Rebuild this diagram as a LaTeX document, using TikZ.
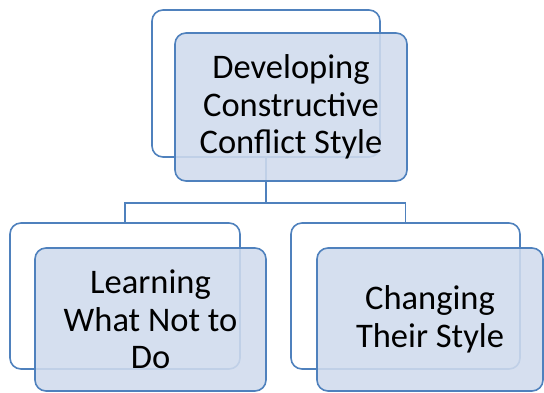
\documentclass[tikz,border=0pt]{standalone}
\usepackage{fontspec}
\setmainfont{Carlito}
\definecolor{edgeblue}{RGB}{79,129,189}
\definecolor{frontfill}{RGB}{208,219,237}
\begin{document}
\begin{tikzpicture}[x=1bp,y=-1bp,
  backbox/.style={draw=edgeblue,line width=1.6bp,rounded corners=11bp,fill=white,
    inner sep=0pt,outer sep=0pt,anchor=center},
  frontbox/.style={draw=edgeblue,line width=1.6bp,rounded corners=11bp,fill=frontfill,
    fill opacity=0.88,text opacity=1,inner sep=0pt,outer sep=0pt,anchor=center,
    align=center,font=\fontsize{34.5bp}{37.5bp}\selectfont},
  link/.style={draw=edgeblue,line width=1.6bp}]
\useasboundingbox (0,0) rectangle (544,392);
% back boxes
\node[backbox,minimum width=228bp,minimum height=147bp] (topback) at (266,83.5) {};
\node[backbox,minimum width=230bp,minimum height=146bp] (leftback) at (125,296) {};
\node[backbox,minimum width=229bp,minimum height=146bp] (rightback) at (405.5,296) {};
% connectors
\coordinate (j) at (266,203);
\draw[link] (topback.south) -- (j);
\draw[link] (leftback.north) |- (j) -| (rightback.north);
% front boxes
\node[frontbox,minimum width=232bp,minimum height=148bp] (topfront) at (291,107)
  {Developing\\Constructive\\Conflict Style};
\node[frontbox,minimum width=231bp,minimum height=143bp] (leftfront) at (150.5,319.5)
  {Learning\\What Not to\\Do};
\node[frontbox,minimum width=226bp,minimum height=143bp] (rightfront) at (430,319.5)
  {Changing\\Their Style};
\end{tikzpicture}
\end{document}
